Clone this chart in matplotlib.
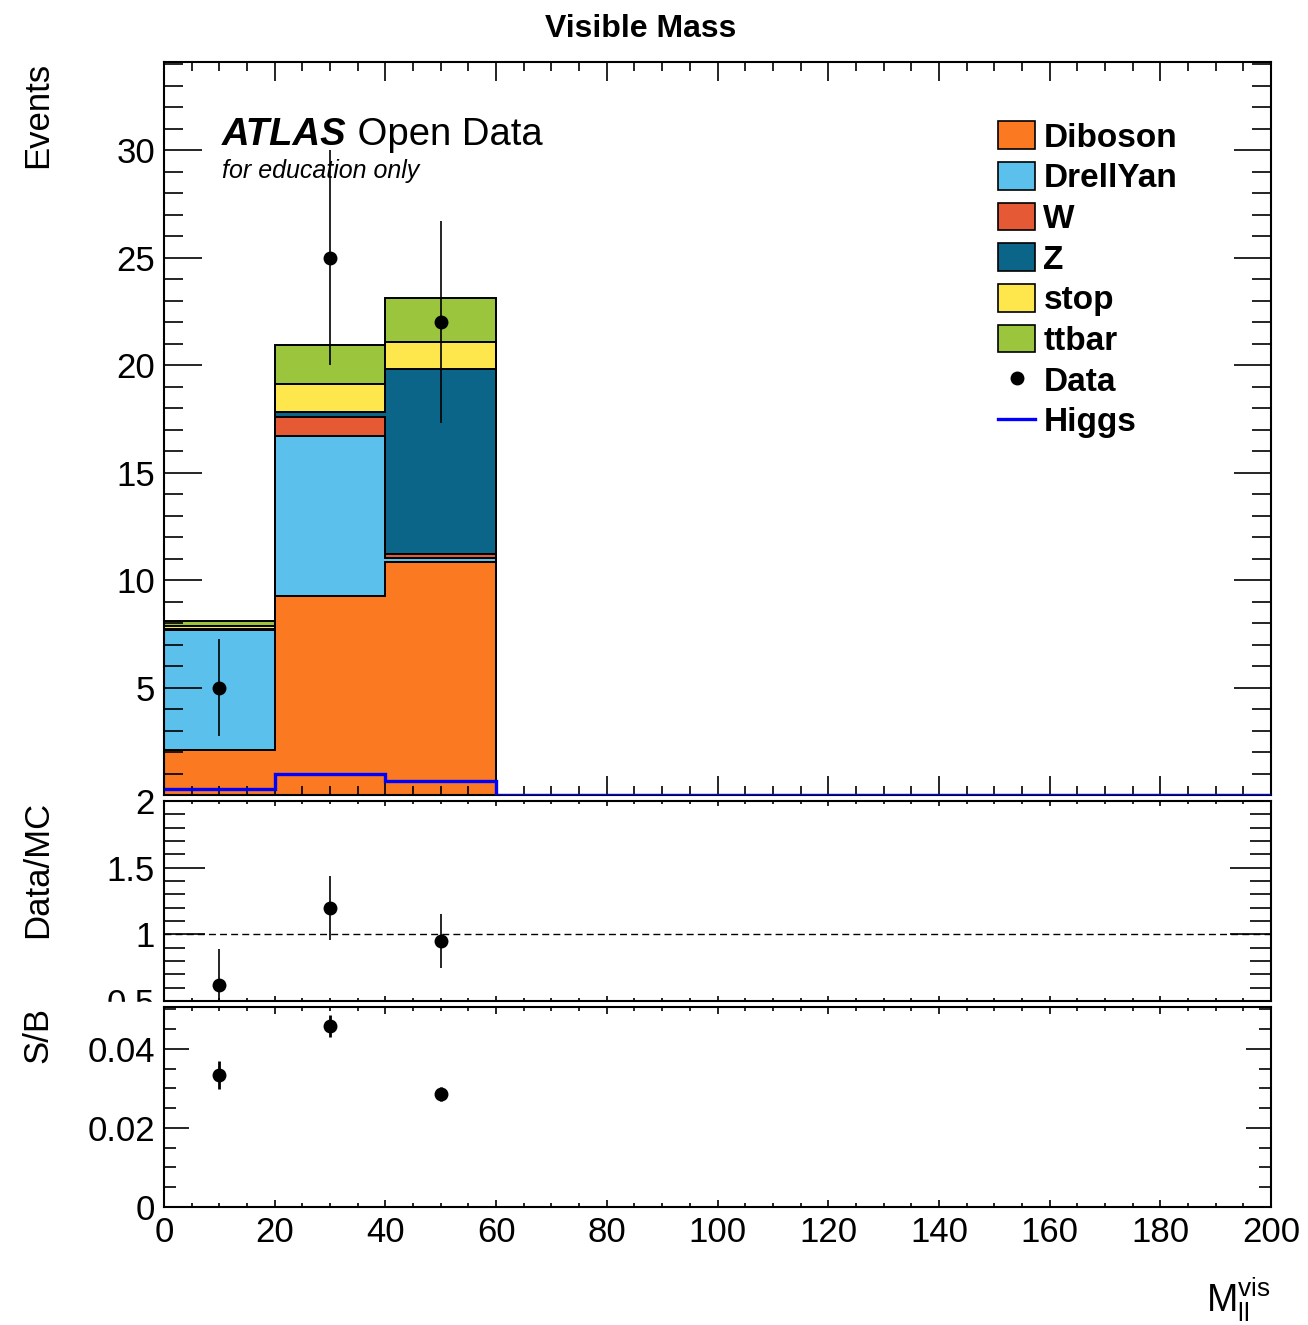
import numpy as np
import matplotlib
matplotlib.use("Agg")
import matplotlib.pyplot as plt
from matplotlib.patches import Patch, Rectangle
from matplotlib.lines import Line2D
from matplotlib.ticker import MultipleLocator, FormatStrFormatter

plt.rcParams['font.family'] = ['Liberation Sans', 'DejaVu Sans']
plt.rcParams['mathtext.fontset'] = 'custom'
plt.rcParams['mathtext.rm'] = 'Liberation Sans'

#------------------------------- data -------------------------------
bin_edges = [0, 20, 40, 60, 80, 100, 120, 140, 160, 180, 200]

diboson  = [2.10, 9.27, 10.83, 0, 0, 0, 0, 0, 0, 0]
drellyan = [5.56, 7.44, 0.18, 0, 0, 0, 0, 0, 0, 0]
w_boson  = [0.03, 0.89, 0.20, 0, 0, 0, 0, 0, 0, 0]
z_boson  = [0.05, 0.20, 8.60, 0, 0, 0, 0, 0, 0, 0]
stop     = [0.12, 1.31, 1.25, 0, 0, 0, 0, 0, 0, 0]
ttbar    = [0.24, 1.81, 2.07, 0, 0, 0, 0, 0, 0, 0]

higgs = [0.27, 0.96, 0.66, 0, 0, 0, 0, 0, 0, 0]
data  = [5, 25, 22, 0, 0, 0, 0, 0, 0, 0]
sb_err = [0.0035, 0.0028, 0.0018, 0, 0, 0, 0, 0, 0, 0]

samples = ["Diboson", "DrellYan", "W", "Z", "stop", "ttbar"]
sample_values = [diboson, drellyan, w_boson, z_boson, stop, ttbar]
sample_colors = ["#fa7921", "#5bc0eb", "#e55934", "#0b6589", "#fde74c", "#9bc53d"]

#------------------------------- derived quantities -------------------------------
edges = np.array(bin_edges, dtype=float)
centers = 0.5 * (edges[:-1] + edges[1:])
data = np.array(data, dtype=float)
data_err = np.sqrt(data)
higgs = np.array(higgs, dtype=float)
background = np.sum(np.array(sample_values, dtype=float), axis=0)
has_data = data > 0

ratio = data[has_data] / background[has_data]
ratio_err = data_err[has_data] / background[has_data]
s_over_b = higgs[has_data] / background[has_data]

#------------------------------- figure layout -------------------------------
W, H = 1308, 1325
fig = plt.figure(figsize=(W / 100, H / 100), dpi=100)
left, right = 164 / W, 1271 / W


def box(top_px, bottom_px):
    return [left, 1 - bottom_px / H, right - left, (bottom_px - top_px) / H]


ax = fig.add_axes(box(62, 795))
ax_r = fig.add_axes(box(801, 1001))
ax_sb = fig.add_axes(box(1007, 1207))
ax_r.set_zorder(0)
ax_sb.set_zorder(2)

# white strip that hides the lower half of the "0.5" label like the ROOT pad does
fig.patches.append(Rectangle((0, 1 - 1014 / H), left - 0.002, 12 / H,
                             transform=fig.transFigure, color="white", zorder=1))

#------------------------------- main panel -------------------------------
bottom = np.zeros(len(centers))
tops = []
for vals, col in zip(sample_values, sample_colors):
    top = bottom + np.array(vals)
    ax.stairs(top, edges, baseline=bottom, fill=True, color=col, lw=0)
    tops.append(top)
    bottom = top
for top in tops:
    ax.stairs(top, edges, baseline=None, color="black", lw=1.4)

ax.stairs(higgs, edges, baseline=None, color="#0000ff", lw=2.4, zorder=4)
ax.errorbar(centers[has_data], data[has_data], yerr=data_err[has_data], fmt="o",
            color="black", ms=9, elinewidth=1.2, capsize=0, zorder=5)

ax.set_xlim(0, 200)
ax.set_ylim(0, 34.1)

handles = [Patch(facecolor=c, edgecolor="black", lw=1.2) for c in sample_colors]
handles.append(Line2D([], [], ls="none", marker="o", color="black", ms=9))
handles.append(Line2D([], [], color="#0000ff", lw=2.4))
ax.legend(handles, samples + ["Data", "Higgs"], loc="upper left",
          bbox_to_anchor=(0.7534, 0.919), frameon=False, borderpad=0,
          borderaxespad=0, handlelength=1.11, handleheight=0.9,
          handletextpad=0.25, labelspacing=0.25,
          prop={"weight": "bold", "size": 24})

atlas = ax.text(0.0524, 0.8868, "ATLAS", transform=ax.transAxes, fontsize=27.5,
                fontweight="bold", fontstyle="italic", va="baseline")
ax.annotate(" Open Data", xy=(1, 0), xycoords=atlas, fontsize=27.5,
            va="bottom", ha="left")
ax.text(0.0524, 0.8417, "for education only", transform=ax.transAxes,
        fontsize=18, fontstyle="italic", va="baseline")

fig.text(641 / W, 1 - 37 / H, "Visible Mass", ha="center", va="baseline",
         fontsize=23, fontweight="bold")

#------------------------------- ratio panel -------------------------------
ax_r.axhline(1, color="black", lw=1.0, ls=(0, (5, 3)))
ax_r.errorbar(centers[has_data], ratio, yerr=ratio_err, fmt="o", color="black",
              ms=9, elinewidth=1.2, capsize=0)
ax_r.set_xlim(0, 200)
ax_r.set_ylim(0.5, 2.0)

#------------------------------- S/B panel -------------------------------
ax_sb.errorbar(centers[has_data], s_over_b, yerr=np.array(sb_err)[has_data],
               fmt="o", color="black", ms=9, elinewidth=2.0, capsize=0)
ax_sb.set_xlim(0, 200)
ax_sb.set_ylim(0, 0.0506)

#------------------------------- axes styling -------------------------------
tick_sizes = {ax: (27, 13.7, 13.7, 6.5),
              ax_r: (29.5, 15, 3.6, 2.5),
              ax_sb: (18, 8.6, 5, 3)}
for a, (ymaj, ymin, xmaj, xmin) in tick_sizes.items():
    for s in a.spines.values():
        s.set_linewidth(1.5)
    a.xaxis.set_major_locator(MultipleLocator(20))
    a.xaxis.set_minor_locator(MultipleLocator(5))
    a.tick_params(axis="both", which="both", direction="in", top=True,
                  right=True, width=1.2, labelsize=25, pad=6.5)
    a.tick_params(axis="y", which="major", length=ymaj)
    a.tick_params(axis="y", which="minor", length=ymin)
    a.tick_params(axis="x", which="major", length=xmaj)
    a.tick_params(axis="x", which="minor", length=xmin)

ax.yaxis.set_major_locator(MultipleLocator(5))
ax.yaxis.set_minor_locator(MultipleLocator(1))
ax.yaxis.set_major_formatter(lambda v, p: "" if v == 0 else "%g" % v)
ax_r.yaxis.set_major_locator(MultipleLocator(0.5))
ax_r.yaxis.set_minor_locator(MultipleLocator(0.1))
ax_r.yaxis.set_major_formatter(FormatStrFormatter("%g"))
ax_sb.yaxis.set_major_locator(MultipleLocator(0.02))
ax_sb.yaxis.set_minor_locator(MultipleLocator(0.005))
ax_sb.yaxis.set_major_formatter(FormatStrFormatter("%g"))
ax.tick_params(axis="x", labelbottom=False)
ax_r.tick_params(axis="x", labelbottom=False)

label_x = (54 - 164) / (1271 - 164)
ax.set_ylabel("Events", fontsize=25, loc="top")
ax.yaxis.set_label_coords(label_x, 1.0)
ax_r.set_ylabel("Data/MC", fontsize=25, loc="top")
ax_r.yaxis.set_label_coords(label_x, 1.0)
ax_sb.set_ylabel("S/B", fontsize=25, loc="top")
ax_sb.yaxis.set_label_coords(label_x, 1.0)
ax_sb.set_xlabel(r"$\mathrm{M}_{\mathrm{ll}}^{\mathrm{vis}}$", fontsize=27, loc="right")
ax_sb.xaxis.set_label_coords(1.0, -0.34)

fig.savefig("out.png", dpi=100)
